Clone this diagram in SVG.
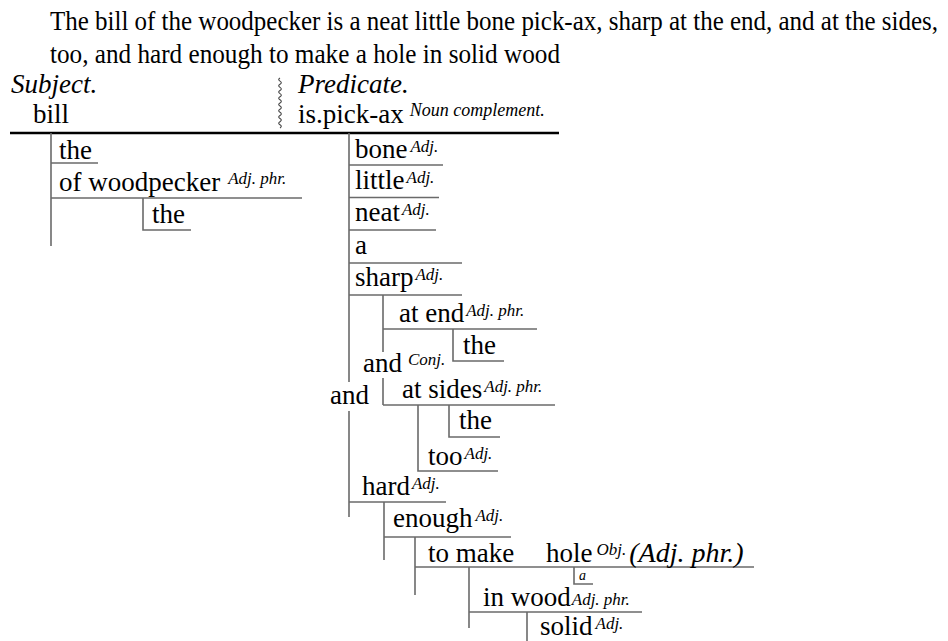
<svg xmlns="http://www.w3.org/2000/svg" width="948" height="641" viewBox="0 0 948 641">
<style>
text{font-family:"Liberation Serif","Noto Serif","DejaVu Serif",serif;fill:#000}
.t{font-size:27.5px}
.w{font-size:27px}
.i{font-style:italic}
.s{font-style:italic;font-size:17px}
.ln{stroke:#6a6a6a;stroke-width:1.6;fill:none}
.main{stroke:#000;stroke-width:2.6;fill:none}
.wave{stroke:#444;stroke-width:1.1;fill:none}
</style>
<rect width="948" height="641" fill="#fff"/>
<g id="title">
<text class="t" x="50" y="30" textLength="888" lengthAdjust="spacingAndGlyphs">The bill of the woodpecker is a neat little bone pick-ax, sharp at the end, and at the sides,</text>
<text class="t" x="50" y="63" textLength="510" lengthAdjust="spacingAndGlyphs">too, and hard enough to make a hole in solid wood</text>
</g>
<g id="connectors">
<line class="main" x1="10" y1="133" x2="559" y2="133"/>
<path class="wave" d="M280,78 q-2.6,1.56 0,3.12 q2.6,1.56 0,3.12 q-2.6,1.56 0,3.12 q2.6,1.56 0,3.12 q-2.6,1.56 0,3.12 q2.6,1.56 0,3.12 q-2.6,1.56 0,3.12 q2.6,1.56 0,3.12 q-2.6,1.56 0,3.12 q2.6,1.56 0,3.12 q-2.6,1.56 0,3.12 q2.6,1.56 0,3.12 q-2.6,1.56 0,3.12 q2.6,1.56 0,3.12 q-2.6,1.56 0,3.12 q2.6,1.56 0,3.12"/>
<path class="ln" d="M51,133 V246"/>
<path class="ln" d="M51,163 H98"/>
<path class="ln" d="M51,198 H302"/>
<path class="ln" d="M143,198 V230 H191"/>
<path class="ln" d="M349,133 V382 M349,411 V517"/>
<path class="ln" d="M349,165 H443"/>
<path class="ln" d="M349,197.5 H439"/>
<path class="ln" d="M349,230 H436"/>
<path class="ln" d="M349,263 H462"/>
<path class="ln" d="M349,295 H462"/>
<path class="ln" d="M383,295 V352 M383,378 V405"/>
<path class="ln" d="M383,329 H537"/>
<path class="ln" d="M453,329 V361 H504"/>
<path class="ln" d="M383,405 H555"/>
<path class="ln" d="M449,405 V437 H500"/>
<path class="ln" d="M418,405 V471 H498"/>
<path class="ln" d="M349,502 H446"/>
<path class="ln" d="M384,502 V560"/>
<path class="ln" d="M384,537 H511"/>
<path class="ln" d="M415,537 V595"/>
<path class="ln" d="M415,567 H754"/>
<path class="ln" d="M574,567 V584 H593"/>
<path class="ln" d="M469,567 V628"/>
<path class="ln" d="M469,612 H642"/>
<path class="ln" d="M527,612 V641"/>
</g>
<g id="subject-head"><text class="w i" x="11" y="93">Subject.</text></g>
<g id="bill"><text class="w" x="33" y="123">bill</text></g>
<g id="predicate-head"><text class="w i" x="298" y="93">Predicate.</text></g>
<g id="is-pick-ax"><text class="w" x="298" y="123">is.pick-ax<tspan class="s" style="font-size:18px" dx="6" dy="-7">Noun complement.</tspan></text></g>
<g id="the-1"><text class="w" x="59" y="159">the</text></g>
<g id="of-woodpecker"><text class="w" x="59" y="191">of woodpecker<tspan class="s" dx="8" dy="-7">Adj. phr.</tspan></text></g>
<g id="the-2"><text class="w" x="152" y="223">the</text></g>
<g id="bone"><text class="w" x="355" y="158">bone<tspan class="s" dx="3" dy="-6">Adj.</tspan></text></g>
<g id="little"><text class="w" x="355" y="189">little<tspan class="s" dx="2" dy="-6">Adj.</tspan></text></g>
<g id="neat"><text class="w" x="355" y="221">neat<tspan class="s" dx="2" dy="-6">Adj.</tspan></text></g>
<g id="a-1"><text class="w" x="355" y="254">a</text></g>
<g id="sharp"><text class="w" x="355" y="286">sharp<tspan class="s" dx="2" dy="-6">Adj.</tspan></text></g>
<g id="at-end"><text class="w" x="399" y="322">at end<tspan class="s" dx="2" dy="-6">Adj. phr.</tspan></text></g>
<g id="the-3"><text class="w" x="463" y="354">the</text></g>
<g id="and-conj"><text class="w" x="363" y="372">and<tspan class="s" dx="6" dy="-7">Conj.</tspan></text></g>
<g id="and-main"><text class="w" x="330" y="404">and</text></g>
<g id="at-sides"><text class="w" x="402" y="398">at sides<tspan class="s" dx="2" dy="-6">Adj. phr.</tspan></text></g>
<g id="the-4"><text class="w" x="459" y="429">the</text></g>
<g id="too"><text class="w" x="428" y="465">too<tspan class="s" dx="2" dy="-6">Adj.</tspan></text></g>
<g id="hard"><text class="w" x="362" y="495">hard<tspan class="s" dx="2" dy="-6">Adj.</tspan></text></g>
<g id="enough"><text class="w" x="393" y="527">enough<tspan class="s" dx="3" dy="-6">Adj.</tspan></text></g>
<g id="to-make"><text class="w" x="428" y="562">to make</text></g>
<g id="hole"><text class="w" x="546" y="562">hole<tspan class="s" dx="4" dy="-7">Obj.</tspan><tspan class="i" style="font-size:28px" dx="3" dy="7">(Adj. phr.)</tspan></text></g>
<g id="a-2"><text class="i" style="font-size:14px" x="579" y="580">a</text></g>
<g id="in-wood"><text class="w" x="483" y="606">in wood<tspan class="s" dx="1" dy="-1">Adj. phr.</tspan></text></g>
<g id="solid"><text class="w" x="540" y="635">solid<tspan class="s" dx="3" dy="-6">Adj.</tspan></text></g>
</svg>
